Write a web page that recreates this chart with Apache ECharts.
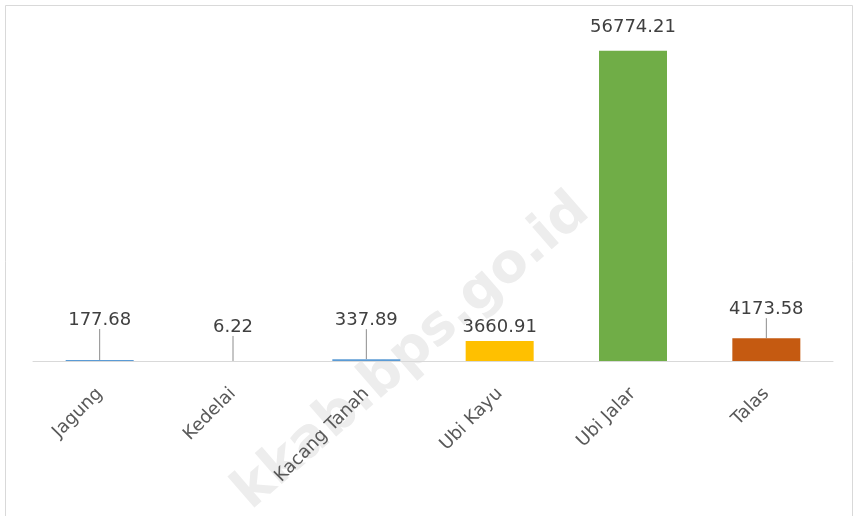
<!DOCTYPE html>
<html>
<head>
<meta charset="utf-8">
<script src="https://cdn.jsdelivr.net/npm/echarts@6/dist/echarts.min.js"></script>
<style>
  html, body { margin: 0; padding: 0; background: #fff; }
  #chart { width: 860px; height: 516px; }
</style>
</head>
<body>
<div id="chart"></div>
<script>
var categories = ['Jagung', 'Kedelai', 'Kacang Tanah', 'Ubi Kayu', 'Ubi Jalar', 'Talas'];
var values = [177.68, 6.22, 337.89, 3660.91, 56774.21, 4173.58];
var barColors = ['#5B9BD5', '#5B9BD5', '#5B9BD5', '#FFC000', '#70AD47', '#C55A11'];

// how far each data label is pulled up above its bar (Excel-style leader lines)
var labelLift = [-26, -20, -25, 0, 0, -15];

var chartBox = document.getElementById('chart');
var myChart = echarts.init(chartBox);

var seriesData = values.map(function (v, i) {
    var item = {
        value: v,
        itemStyle: { color: barColors[i] }
    };
    if (labelLift[i] === 0) {
        item.labelLine = { show: false };
    }
    if (i === 4) {
        item.label = { distance: 14 };
    }
    return item;
});

var option = {
    backgroundColor: '#ffffff',
    animation: false,
    textStyle: { fontFamily: 'DejaVu Sans' },
    graphic: [
        {
            type: 'rect',
            shape: { x: 5.5, y: 5.5, width: 847, height: 530 },
            style: { fill: 'none', stroke: '#d9d9d9', lineWidth: 1 },
            z: 0
        },
        {
            type: 'text',
            x: 412,
            y: 352,
            rotation: 41 * Math.PI / 180,
            style: {
                text: 'kkab.bps.go.id',
                font: 'bold 54px "DejaVu Sans"',
                fill: '#ededed',
                align: 'center',
                verticalAlign: 'middle'
            },
            z: 0
        }
    ],
    grid: {
        left: 33,
        right: 27,
        top: 33,
        bottom: 155
    },
    xAxis: {
        type: 'category',
        data: categories,
        axisTick: { show: false },
        axisLine: { lineStyle: { color: '#d9d9d9', width: 1 } },
        axisLabel: {
            rotate: 45,
            margin: 30,
            color: '#595959',
            fontSize: 18,
            fontFamily: 'DejaVu Sans'
        }
    },
    yAxis: {
        type: 'value',
        min: 0,
        max: 60000,
        show: false,
        splitLine: { show: false }
    },
    series: [
        {
            type: 'bar',
            barWidth: 68,
            data: seriesData,
            z: 2,
            label: {
                show: true,
                position: 'top',
                distance: 5,
                color: '#404040',
                fontSize: 18,
                fontFamily: 'DejaVu Sans',
                formatter: function (p) {
                    return p.value.toFixed(2);
                }
            },
            labelLine: {
                show: true,
                lineStyle: { color: '#8c8c8c', width: 1 }
            },
            labelLayout: function (params) {
                return { dy: labelLift[params.dataIndex] };
            }
        }
    ]
};

myChart.setOption(option);
</script>
</body>
</html>
